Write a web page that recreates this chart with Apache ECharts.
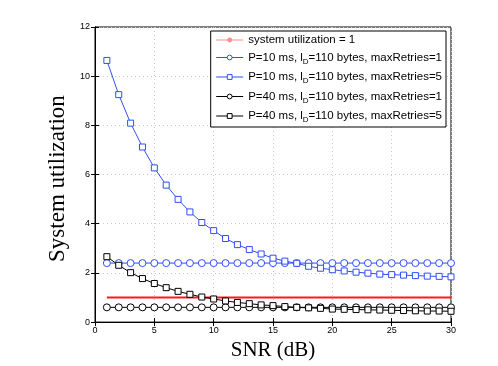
<!DOCTYPE html>
<html><head><meta charset="utf-8">
<script src="https://cdn.jsdelivr.net/npm/echarts@6/dist/echarts.min.js"></script>
<style>html,body{margin:0;padding:0;background:#fff}#c{width:498px;height:366px}</style>
</head><body><div id="c"></div>
<script>
const snr = [1,2,3,4,5,6,7,8,9,10,11,12,13,14,15,16,17,18,19,20,21,22,23,24,25,26,27,28,29,30];
const utilOne = snr.map(() => 1);
const p10r1 = [2.4,2.4,2.4,2.4,2.4,2.4,2.4,2.4,2.4,2.4,2.4,2.4,2.4,2.4,2.4,2.4,2.4,2.4,2.4,2.4,2.4,2.4,2.4,2.4,2.4,2.4,2.4,2.4,2.4,2.4];
const p10r5 = [10.64,9.25,8.09,7.12,6.27,5.57,4.99,4.48,4.05,3.72,3.4,3.15,2.95,2.77,2.6,2.48,2.39,2.27,2.19,2.13,2.08,2.03,1.99,1.95,1.93,1.91,1.89,1.87,1.86,1.84];
const p40r1 = [0.6,0.6,0.6,0.6,0.6,0.6,0.6,0.6,0.6,0.6,0.6,0.6,0.6,0.6,0.6,0.6,0.6,0.6,0.6,0.6,0.6,0.6,0.6,0.6,0.6,0.6,0.6,0.6,0.6,0.6];
const p40r5 = [2.66,2.31,2.01,1.77,1.57,1.4,1.25,1.13,1.02,0.94,0.86,0.8,0.75,0.7,0.67,0.63,0.6,0.58,0.56,0.53,0.52,0.51,0.5,0.49,0.48,0.47,0.46,0.45,0.45,0.44];
const xTicks = [0,5,10,15,20,25,30];
const yTicks = [0,2,4,6,8,10,12];
const legendNames = ['util','p10r1','p10r5','p40r1','p40r5'];
const legendText = {
  util: '{a|system utilization = 1}',
  p10r1: '{a|P=10 ms, l}{s|D}{a|=110 bytes, maxRetries=1}',
  p10r5: '{a|P=10 ms, l}{s|D}{a|=110 bytes, maxRetries=5}',
  p40r1: '{a|P=40 ms, l}{s|D}{a|=110 bytes, maxRetries=1}',
  p40r5: '{a|P=40 ms, l}{s|D}{a|=110 bytes, maxRetries=5}'
};
const BLUE = '#2f4ff8';
const RED = '#ff1a1a';
const pair = arr => snr.map((x,i)=>[x, arr[i]]);
const chart = echarts.init(document.getElementById('c'));
const gridLine = {show:true, lineStyle:{color:'#c8c8c8', type:[1,3], width:1}};
const legItem = (name, c) => ({name, itemStyle:{color:'#fff', borderColor:c, borderWidth:1}, lineStyle:{color:c, width:1}});
chart.setOption({
  animation:false,
  grid:{left:95, right:47, top:27, bottom:41, show:true, borderColor:'#000', borderWidth:1},
  xAxis:[{type:'value', min:0, max:30, interval:5,
    axisLine:{show:true, onZero:false, lineStyle:{color:'#000'}},
    axisTick:{inside:true, length:4, lineStyle:{color:'#000'}},
    axisLabel:{fontSize:9, color:'#000', fontFamily:'Liberation Sans', margin:4,
      formatter: v => xTicks.includes(v) ? String(v) : ''},
    splitLine:gridLine,
    name:'SNR (dB)', nameLocation:'middle', nameGap:17,
    nameTextStyle:{fontSize:21, fontFamily:'Liberation Serif', color:'#000'}},
   {type:'value', position:'top', min:0, max:30, interval:5,
    axisLine:{show:true, lineStyle:{color:'#000'}}, axisTick:{inside:true, length:4, lineStyle:{color:'#000'}},
    axisLabel:{show:false}, splitLine:{show:false}}],
  yAxis:[{type:'value', min:0, max:12, interval:2,
    axisLine:{show:true, onZero:false, lineStyle:{color:'#000'}},
    axisTick:{inside:true, length:4, lineStyle:{color:'#000'}},
    axisLabel:{fontSize:9, color:'#000', fontFamily:'Liberation Sans', margin:5,
      formatter: v => yTicks.includes(v) ? String(v) : ''},
    splitLine:gridLine,
    name:'System utilization', nameLocation:'middle', nameGap:18,
    nameTextStyle:{fontSize:23, fontFamily:'Liberation Serif', color:'#000', padding:[0,8,0,0]}},
   {type:'value', position:'right', min:0, max:12, interval:2,
    axisLine:{show:true, lineStyle:{color:'#000'}}, axisTick:{inside:true, length:4, lineStyle:{color:'#000'}},
    axisLabel:{show:false}, splitLine:{show:false}}],
  legend:{
    data:[
      {name:'util', lineStyle:{color:'#ff8c8c', width:1}, itemStyle:{color:'#ff8c8c'}},
      legItem('p10r1', BLUE), legItem('p10r5', BLUE), legItem('p40r1', '#000'), legItem('p40r5', '#000')
    ],
    orient:'vertical', right:52, top:31,
    backgroundColor:'#fff', borderColor:'#000', borderWidth:1,
    padding:[3,4,3,5], itemGap:3.5, itemWidth:27, itemHeight:6,
    formatter: n => legendText[n],
    textStyle:{rich:{
      a:{fontSize:11.5, lineHeight:14, fontFamily:'Liberation Sans', color:'#000'},
      s:{fontSize:8, lineHeight:8, fontFamily:'Liberation Sans', color:'#000', padding:[8,0,0,0]}
    }}
  },
  series:[
    {name:'util', type:'line', data:pair(utilOne), showSymbol:false, symbol:'none',
     lineStyle:{color:RED, width:2}, itemStyle:{color:RED}, z:3},
    {name:'p10r1', type:'line', data:pair(p10r1), symbol:'circle', symbolSize:7,
     lineStyle:{color:BLUE, width:1}, itemStyle:{color:'#fff', borderColor:BLUE, borderWidth:1}},
    {name:'p10r5', type:'line', data:pair(p10r5), symbol:'rect', symbolSize:6,
     lineStyle:{color:BLUE, width:1}, itemStyle:{color:'#fff', borderColor:BLUE, borderWidth:1}},
    {name:'p40r1', type:'line', data:pair(p40r1), symbol:'circle', symbolSize:7,
     lineStyle:{color:'#000', width:1}, itemStyle:{color:'#fff', borderColor:'#000', borderWidth:1}},
    {name:'p40r5', type:'line', data:pair(p40r5), symbol:'rect', symbolSize:6,
     lineStyle:{color:'#000', width:1}, itemStyle:{color:'#fff', borderColor:'#000', borderWidth:1}}
  ]
});
</script></body></html>
